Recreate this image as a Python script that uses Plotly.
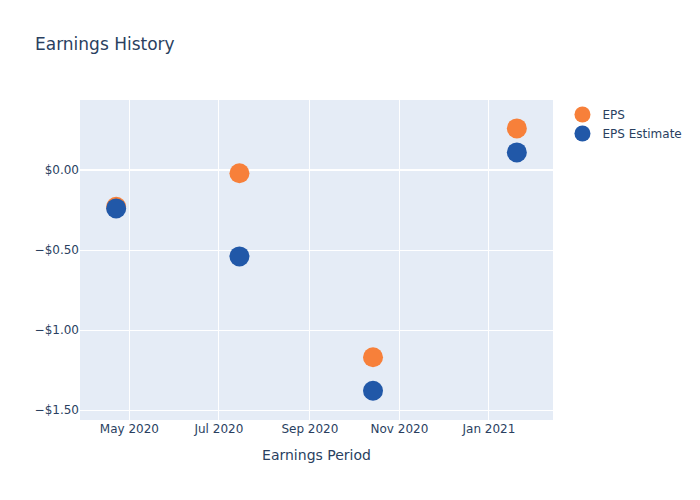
import plotly.graph_objects as go

periods = ["2020-04-22", "2020-07-15", "2020-10-14", "2021-01-20"]
eps = [-0.23, -0.02, -1.17, 0.26]
eps_estimate = [-0.24, -0.54, -1.38, 0.11]

fig = go.Figure()
fig.add_trace(go.Scatter(x=periods, y=eps, mode="markers", name="EPS",
                         marker=dict(size=20, color="#F7803A")))
fig.add_trace(go.Scatter(x=periods, y=eps_estimate, mode="markers", name="EPS Estimate",
                         marker=dict(size=20, color="#2158A8")))
fig.update_layout(
    width=700, height=500,
    font=dict(family="DejaVu Sans"),
    margin=dict(l=80, r=147, t=100, b=80),
    title=dict(text="Earnings History"),
    xaxis=dict(title=dict(text="Earnings Period"), dtick="M2", tickformat="%b %Y"),
    yaxis=dict(tickformat="$.2f", dtick=0.5, range=[-1.5625, 0.4375]),
)
fig.write_html("out.html", config={"displayModeBar": False},
               post_script="document.body.style.margin='0px';")
